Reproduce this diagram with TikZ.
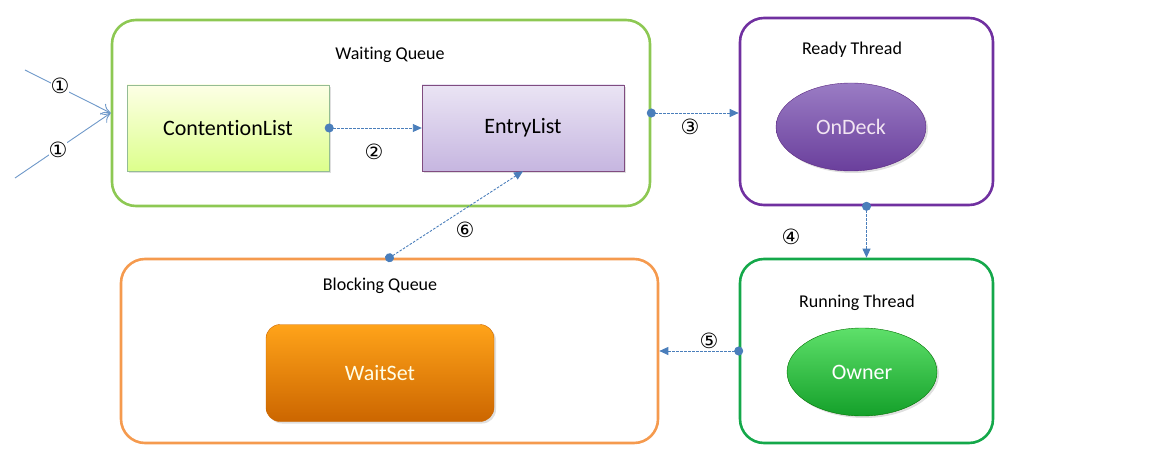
\documentclass[tikz,border=0pt]{standalone}
\usepackage{fontspec}
\setmainfont{Carlito}[Ligatures=NoCommon]
\newfontfamily\symfont{DejaVu Sans}
\usetikzlibrary{arrows.meta,shapes.geometric,shadows,calc}
\definecolor{wqgreen}{HTML}{8DC853}
\definecolor{rtpurple}{HTML}{7030A0}
\definecolor{rngreen}{HTML}{14A84A}
\definecolor{bqorange}{HTML}{F59A4E}
\definecolor{linkblue}{HTML}{4A7EBB}
\definecolor{elTop}{HTML}{EAE4F4}
\definecolor{elBot}{HTML}{C6B6E0}
\definecolor{odTop}{HTML}{9A7CC4}
\definecolor{odBot}{HTML}{6A3F9C}
\definecolor{owTop}{HTML}{5EE06A}
\definecolor{owBot}{HTML}{14A02A}
\tikzset{
  container/.style={draw, line width=2.6pt, rounded corners=24pt, inner sep=0pt},
  title/.style={font=\fontsize{18}{20}\selectfont, text=black},
  inner/.style={font=\fontsize{22}{25}\selectfont, inner sep=0pt},
  num/.style={font=\symfont\fontsize{21}{21}\selectfont, text=black, inner sep=0pt},
  link/.style={draw=linkblue, line width=0.9pt, dash pattern=on 2.5pt off 1.5pt,
    {Circle[length=9pt,fill=linkblue]}-{Triangle[length=9pt,width=8pt,fill=linkblue]}, shorten <=-4.5pt},
  inlink/.style={draw=linkblue!80, line width=0.9pt, -{To[length=9pt,width=12pt]}},
  softshadow/.style={drop shadow={opacity=0.25, shadow xshift=2pt, shadow yshift=-2pt}}
}
\begin{document}
\begin{tikzpicture}[x=1pt,y=-1pt]
\useasboundingbox (0,0) rectangle (1151,457);
% containers
\node[container, draw=wqgreen, minimum width=538pt, minimum height=186pt] (wq) at (381,113) {};
\node[container, draw=rtpurple, minimum width=253pt, minimum height=187pt] (rt) at (866.5,111.5) {};
\node[container, draw=rngreen, minimum width=253pt, minimum height=184pt] (run) at (866.5,351) {};
\node[container, draw=bqorange, minimum width=537pt, minimum height=184pt] (bq) at (389.5,351) {};
% titles
\node[title] (wqt) at (390,55) {Waiting Queue};
\node[title] (rtt) at (852,50) {Ready Thread};
\node[title] (runt) at (857,303) {Running Thread};
\node[title] (bqt) at (380,286) {Blocking Queue};
% inner nodes
\node[inner, softshadow, draw=black!35!green!40!gray!60, top color=green!8!yellow!10, bottom color=green!30!yellow!45!white,
  minimum width=202pt, minimum height=86pt] (cl) at (228,128) {ContentionList};
\node[inner, softshadow, draw=violet!40!gray, top color=elTop, bottom color=elBot,
  minimum width=202pt, minimum height=86pt] (el) at (523,128) {EntryList};
\node[inner, softshadow, ellipse, draw=rtpurple!80!black, top color=odTop, bottom color=odBot,
  text=white!90!violet, minimum width=150pt, minimum height=88pt] (od) at (851,127) {OnDeck};
\node[inner, softshadow, ellipse, draw=green!45!black, top color=owTop, bottom color=owBot,
  text=white, minimum width=150pt, minimum height=88pt] (ow) at (862,372) {Owner};
\node[inner, softshadow, rounded corners=14pt, draw=orange!80!black, top color=orange!80!yellow!90, bottom color=orange!80!black,
  text=white!90!yellow, minimum width=228pt, minimum height=97pt] (ws) at (380,373) {WaitSet};
% input arrows
\coordinate (in1) at (25,70);
\coordinate (in2) at (15,178);
\draw[inlink] (in1) -- (wq.west);
\draw[inlink] (in2) -- (wq.west);
\node[num, fill=white] (n1a) at (60,86) {①};
\node[num, fill=white] (n1b) at (58,150) {①};
% flow arrows
\draw[link] (cl.east) -- (el.west);
\node[num] (n2) at (374,152) {②};
\draw[link] (wq.east) -- (wq.east -| rt.west);
\node[num] (n3) at (690,127) {③};
\draw[link] (rt.south) -- (run.north);
\node[num] (n4) at (791,237) {④};
\draw[link] (run.west) -- (bq.east);
\node[num] (n5) at (709,341) {⑤};
\draw[link] (bq.north) -- (el.south);
\node[num] (n6) at (465,230) {⑥};
\end{tikzpicture}
\end{document}
